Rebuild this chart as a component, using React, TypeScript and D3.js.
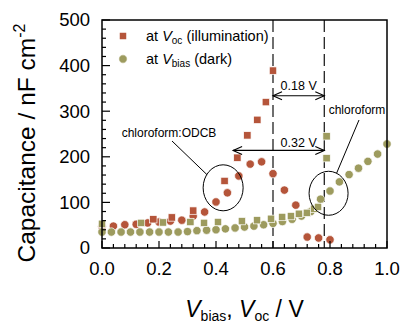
import * as d3 from "d3"

// chloroform:ODCB, dark (circles) and at Voc under illumination (squares)
const odcbDarkV = [0, 0.04, 0.08, 0.12, 0.16, 0.2, 0.24, 0.28, 0.32, 0.36, 0.4, 0.44, 0.48, 0.52, 0.56, 0.6, 0.64, 0.68, 0.72, 0.76, 0.8]
const odcbDarkC = [47, 48, 51, 52, 55, 57, 59, 61, 70, 79, 101, 121, 158, 184, 189, 163, 127, 94, 24, 22, 18]
const odcbVocV = [0.18, 0.245, 0.32, 0.43, 0.475, 0.51, 0.545, 0.575, 0.6]
const odcbVocC = [63, 67, 82, 147, 198, 247, 281, 320, 389]

// chloroform
const chlDarkV = [0, 0.033, 0.067, 0.1, 0.133, 0.167, 0.2, 0.233, 0.267, 0.3, 0.333, 0.367, 0.4, 0.433, 0.467, 0.5, 0.533, 0.567, 0.6, 0.633, 0.667, 0.7, 0.733, 0.767, 0.8, 0.833, 0.867, 0.9, 0.933, 0.967, 1.0]
const chlDarkC = [35, 35, 35, 35, 35, 35, 35, 35, 35, 36, 38, 39, 40, 42, 44, 46, 48, 51, 54, 58, 63, 70, 80, 107, 125, 145, 161, 175, 190, 206, 228]
const chlVocV = [0, 0.137, 0.214, 0.31, 0.358, 0.407, 0.491, 0.544, 0.593, 0.632, 0.663, 0.691, 0.719, 0.744, 0.758, 0.788, 0.788]
const chlVocC = [53, 55, 56, 57, 55, 57, 59, 61, 64, 68, 70, 75, 77, 86, 90, 197, 245]

const xTicks = [0, 0.2, 0.4, 0.6, 0.8, 1.0]
const yTicks = [0, 100, 200, 300, 400, 500]

const RED = "#b5553a"
const OLIVE = "#9d9b5e"
const FONT = "Liberation Sans, Arial, sans-serif"

const W = 401, H = 327
const m = { left: 102, top: 20, right: 14, bottom: 79 }

const x = d3.scaleLinear().domain([0, 1]).range([m.left, W - m.right])
const y = d3.scaleLinear().domain([0, 500]).range([H - m.bottom, m.top])

const zip = (a, b) => a.map((v, i) => [v, b[i]])

const Square = ({ cx, cy, fill }) => (
    <rect x={cx - 3.7} y={cy - 3.7} width={7.4} height={7.4} fill={fill} stroke="#fff" strokeWidth={0.7} />
)
const Dot = ({ cx, cy, fill }) => (
    <circle cx={cx} cy={cy} r={4.2} fill={fill} stroke="#fff" strokeWidth={0.7} />
)

// double arrow with open heads
const DoubleArrow = ({ x1, x2, yy }) => {
    const h = 9, w = 4
    return (
        <g stroke="#000" strokeWidth={1.1} fill="none">
            <line x1={x1} x2={x2} y1={yy} y2={yy} />
            <path d={`M${x1 + h},${yy - w} L${x1},${yy} L${x1 + h},${yy + w}`} />
            <path d={`M${x2 - h},${yy - w} L${x2},${yy} L${x2 - h},${yy + w}`} />
        </g>
    )
}

const App = () => {
    const x0 = x(0), x1 = x(1), y0 = y(0), y1 = y(500)
    const yMinor = d3.range(0, 501, 20)
    const xMinor = d3.range(0, 1.001, 0.04)

    return (
        <svg width={W} height={H} style={{ position: "absolute", left: 0, top: 0, background: "#fff" }} fontFamily={FONT}>
            {/* dashed guides */}
            {[0.6, 0.78].map(v => (
                <line key={v} x1={x(v)} x2={x(v)} y1={y1} y2={y0} stroke="#222" strokeWidth={1.3} strokeDasharray="12,5" />
            ))}

            {/* data */}
            {zip(odcbDarkV, odcbDarkC).map(([v, c], i) => <Dot key={"rc" + i} cx={x(v)} cy={y(c)} fill={RED} />)}
            {zip(odcbVocV, odcbVocC).map(([v, c], i) => <Square key={"rs" + i} cx={x(v)} cy={y(c)} fill={RED} />)}
            {zip(chlDarkV, chlDarkC).map(([v, c], i) => <Dot key={"oc" + i} cx={x(v)} cy={y(c)} fill={OLIVE} />)}
            {zip(chlVocV, chlVocC).map(([v, c], i) => <Square key={"os" + i} cx={x(v)} cy={y(c)} fill={OLIVE} />)}

            {/* frame */}
            <rect x={x0} y={y1} width={x1 - x0} height={y0 - y1} fill="none" stroke="#000" strokeWidth={1.5} />

            {/* y ticks */}
            {yMinor.map(t => (
                <line key={"yt" + t} x1={x0} x2={x0 + (t % 100 === 0 ? 8 : 4)} y1={y(t)} y2={y(t)} stroke="#000" strokeWidth={1.2} />
            ))}
            {yTicks.map(t => (
                <text key={"yl" + t} x={x0 - 12} y={y(t)} dy="0.35em" textAnchor="end" fontSize={18.5}>{t}</text>
            ))}

            {/* x ticks */}
            {xMinor.map((t, i) => (
                <line key={"xt" + i} x1={x(t)} x2={x(t)} y1={y0} y2={y0 - (i % 5 === 0 ? 7 : 4)} stroke="#000" strokeWidth={1.2} />
            ))}
            {xTicks.map(t => (
                <text key={"xl" + t} x={x(t)} y={y0 + 27} textAnchor="middle" fontSize={18.5}>{t.toFixed(1)}</text>
            ))}

            {/* axis titles */}
            <text transform={`translate(35,143) rotate(-90)`} textAnchor="middle" fontSize={24.5}>
                Capacitance / nF cm<tspan fontSize={16} dy={-10}>-2</tspan>
            </text>
            <text x={(x0 + x1) / 2} y={H - 10} textAnchor="middle" fontSize={23}>
                <tspan fontStyle="italic">V</tspan>
                <tspan fontSize={14} dy={4}>bias</tspan>
                <tspan dy={-4}>, </tspan>
                <tspan fontStyle="italic">V</tspan>
                <tspan fontSize={14} dy={4}>oc</tspan>
                <tspan dy={-4}> / V</tspan>
            </text>

            {/* legend */}
            <Square cx={123} cy={36} fill={RED} />
            <Dot cx={123} cy={59} fill={OLIVE} />
            <text x={146} y={41} fontSize={14.5}>
                at <tspan fontStyle="italic">V</tspan><tspan fontSize={10} dy={3}>oc</tspan><tspan dy={-3}> (illumination)</tspan>
            </text>
            <text x={146} y={64} fontSize={14.5}>
                at <tspan fontStyle="italic">V</tspan><tspan fontSize={10} dy={3}>bias</tspan><tspan dy={-3}> (dark)</tspan>
            </text>

            {/* voltage shifts */}
            <DoubleArrow x1={x(0.6)} x2={x(0.78)} yy={y(334)} />
            <text x={(x(0.6) + x(0.78)) / 2} y={y(346)} textAnchor="middle" fontSize={12.5}>0.18 V</text>
            <DoubleArrow x1={x(0.46)} x2={x(0.78)} yy={y(214)} />
            <text x={(x(0.6) + x(0.78)) / 2} y={y(221)} textAnchor="middle" fontSize={12.5}>0.32 V</text>

            {/* annotations */}
            <g fill="none" stroke="#000" strokeWidth={1}>
                <ellipse cx={x(0.425)} cy={y(132)} rx={20} ry={23} />
                <line x1={172} y1={141} x2={x(0.425) - 16} y2={y(132) - 13} />
                <ellipse cx={x(0.795)} cy={y(120)} rx={19.5} ry={22} />
                <line x1={x(0.795) + 8} y1={y(120) - 20} x2={359} y2={120} />
            </g>
            <text x={169} y={137} textAnchor="middle" fontSize={12}>chloroform:ODCB</text>
            <text x={357} y={114} textAnchor="middle" fontSize={12}>chloroform</text>
        </svg>
    )
}

export default App
